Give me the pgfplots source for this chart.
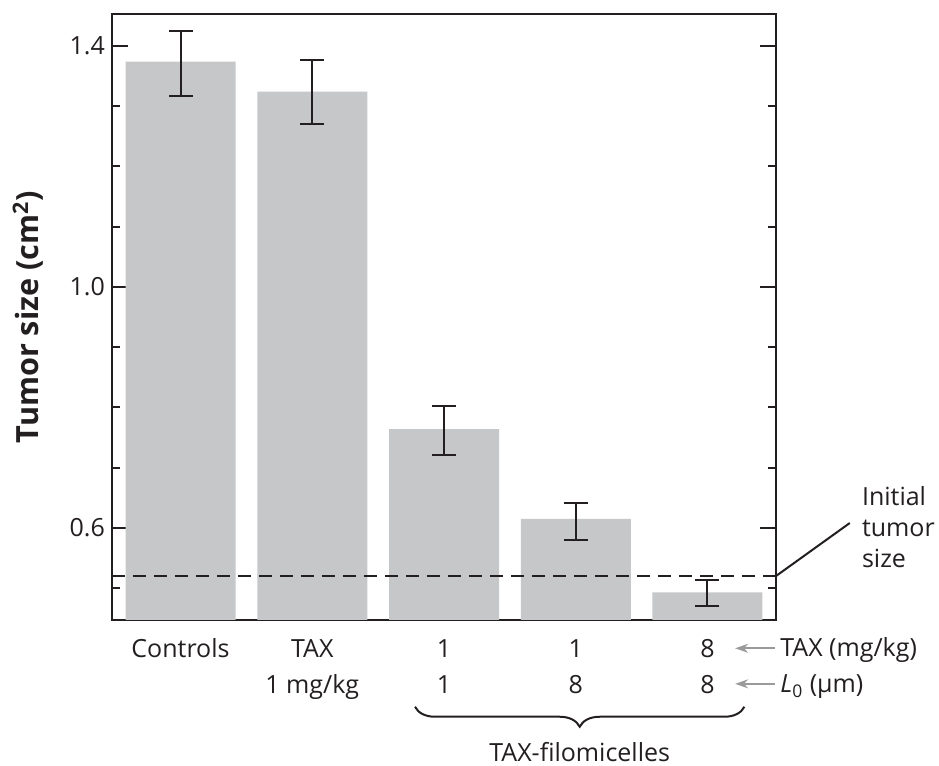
\documentclass[border=0pt]{standalone}
\usepackage{fontspec}
\setmainfont{Open Sans}
\setsansfont{Open Sans}
\usepackage{pgfplots}
\usepackage{pgfplotstable}
\pgfplotsset{compat=1.18}
\usetikzlibrary{arrows.meta,decorations.pathreplacing}
\definecolor{barcol}{HTML}{C6C7C9}
\definecolor{ink}{HTML}{231F20}
\definecolor{arrowgray}{HTML}{9A9A9A}
\newcommand\ts{\rule{0pt}{9.5pt}}
\pgfplotstableread{
x y ep em
0 1.374 0.050 0.057
1 1.324 0.053 0.054
2 0.764 0.038 0.043
3 0.615 0.027 0.035
4 0.493 0.020 0.023
}\tumordata
\begin{document}
\begin{tikzpicture}
\path[use as bounding box] (-56pt,-73pt) rectangle (413.5pt,310pt);
\begin{axis}[
  at={(0,0)}, anchor=south west,
  scale only axis,
  width=332pt, height=303pt,
  xmin=-0.52, xmax=4.52,
  ymin=0.447, ymax=1.453,
  clip mode=individual,
  axis line style={ink, line width=1pt},
  xtick={0,1,2,3,4},
  xticklabels={\ts Controls,{\ts TAX\\1 mg/kg},{\ts 1\\1},{\ts 1\\8},{\ts 8\\8}},
  xtick style={draw=none},
  xticklabel style={align=center, anchor=north, yshift=-9pt, inner sep=0pt,
    font=\fontsize{12.5}{18}\selectfont, text=ink},
  ytick={0.6,1.0,1.4},
  minor ytick={0.5,0.7,0.8,0.9,1.1,1.2,1.3},
  ytick pos=both,
  tick align=inside,
  major tick length=7.8pt,
  minor tick length=4pt,
  every tick/.style={ink, line width=1pt},
  yticklabel style={font=\fontsize{12.5}{15}\selectfont, text=ink,
    /pgf/number format/fixed, /pgf/number format/fixed zerofill,
    /pgf/number format/precision=1,
    /pgf/number format/assume math mode=true},
  ylabel={\textbf{Tumor size (cm\textsuperscript{2})}},
  ylabel style={at={(axis description cs:-0.1265,0.5)}, anchor=center,
    font=\fontsize{15.3}{18}\selectfont, text=ink},
]
\addplot[ybar, bar width=55pt, fill=barcol, draw=none,
  error bars/.cd, y dir=both, y explicit,
  error bar style={ink, line width=1pt},
  error mark options={ink, line width=1pt, mark size=6pt, rotate=90}]
  table[x=x, y=y, y error plus=ep, y error minus=em] {\tumordata};
\addplot[ink, line width=1pt, dash pattern=on 6.5pt off 4pt]
  coordinates {(-0.52,0.52) (4.52,0.52)};
% annotation
\draw[ink, line width=1pt] (axis cs:4.52,0.52) -- (axis cs:5.08,0.608);
\node[anchor=west, align=left, inner sep=0pt, text=ink,
  font=\fontsize{12.5}{15.5}\selectfont] at (axis cs:5.17,0.602)
  {Initial\\tumor\\size};
% row descriptors
\draw[arrowgray, line width=0.9pt, -{Stealth[length=6.5pt,width=4.5pt]}]
  (axis cs:4.51,0.400) -- (axis cs:4.21,0.400);
\draw[arrowgray, line width=0.9pt, -{Stealth[length=6.5pt,width=4.5pt]}]
  (axis cs:4.51,0.341) -- (axis cs:4.21,0.341);
\node[anchor=base west, inner sep=0pt, text=ink, font=\fontsize{12.5}{15}\selectfont]
  at (axis cs:4.55,0.386) {TAX (mg/kg)};
\node[anchor=base west, inner sep=0pt, text=ink, font=\fontsize{12.5}{15}\selectfont]
  at (axis cs:4.55,0.326) {\textit{L}\textsubscript{0} (µm)};
% brace
\draw[ink, line width=1pt, decorate,
  decoration={brace, mirror, amplitude=10pt}]
  (axis cs:1.78,0.303) -- (axis cs:4.28,0.303);
\node[anchor=base, inner sep=0pt, text=ink, font=\fontsize{12.5}{15}\selectfont]
  at (axis cs:3.03,0.212) {TAX-filomicelles};
\end{axis}
\end{tikzpicture}
\end{document}
